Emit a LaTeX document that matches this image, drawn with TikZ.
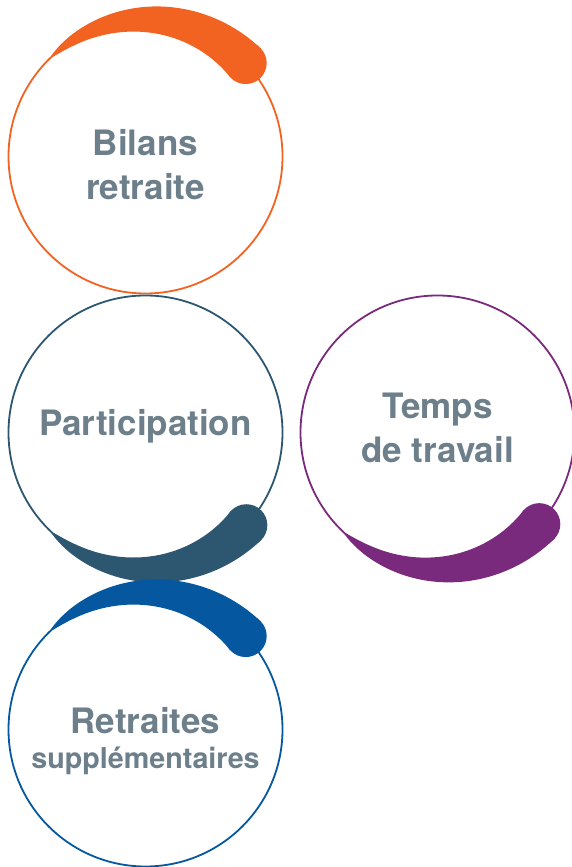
\documentclass[tikz,border=0pt]{standalone}
\usepackage{fontspec}
\setmainfont{TeX Gyre Heros}
\usetikzlibrary{positioning}
\definecolor{bilansorange}{HTML}{F26322}
\definecolor{participteal}{HTML}{2D5670}
\definecolor{tempspurple}{HTML}{7A2A7C}
\definecolor{retraiteblue}{HTML}{0558A0}
\definecolor{labelgray}{HTML}{6C7F8A}

\begin{document}
\begin{tikzpicture}[x=1pt, y=1pt,
	ring/.style={circle, draw=#1, line width=1.8pt, minimum size=274pt, inner sep=0pt},
	lbl/.style={font=\bfseries\fontsize{35}{44}\selectfont, text=labelgray, align=center, inner sep=0pt, anchor=base}]

	\useasboundingbox (0,0) rectangle (571,867);

	% circles
	\node [ring=bilansorange] (bilans) at (145.5,710.5) {};
	\node [ring=participteal] (particip) at (145.5,434.5) {};
	\node [ring=tempspurple] (temps) at (437.5,434.5) {};
	\node [ring=retraiteblue] (retraites) at (145.5,137.5) {};

	% thick strokes
	\foreach \n/\a/\b/\col in {bilans/134/43/bilansorange, particip/226.5/317.4/participteal,
		temps/227/318/tempspurple, retraites/134/43/retraiteblue}
	{
		\begin{scope}[shift={(\n.center)}]
			\fill [\col] plot [domain=0.01:1, samples=60]
				({(137+21*\x^0.7)*cos(\a+(\b-\a)*\x)}, {(137+21*\x^0.7)*sin(\a+(\b-\a)*\x)})
				-- plot [domain=1:0.01, samples=60]
				({(137-21*\x^0.7)*cos(\a+(\b-\a)*\x)}, {(137-21*\x^0.7)*sin(\a+(\b-\a)*\x)})
				-- cycle;
			\fill [\col] (\b:137) circle (21);
		\end{scope}
	}

	% texts (base = last line)
	\node [lbl] (bilans-txt) at (145.5,667.7) {Bilans\\retraite};
	\node [lbl] (particip-txt) at (145.5,431.3) {Participation};
	\node [lbl] (temps-txt) at (437.5,404.3) {Temps\\de travail};
	\node [lbl] (retraites-txt) at (145.5,133.7) {Retraites};
	\node [lbl, font=\bfseries\fontsize{28.7}{36}\selectfont] (retraites-sub) at (145.5,98) {supplémentaires};
\end{tikzpicture}
\end{document}
